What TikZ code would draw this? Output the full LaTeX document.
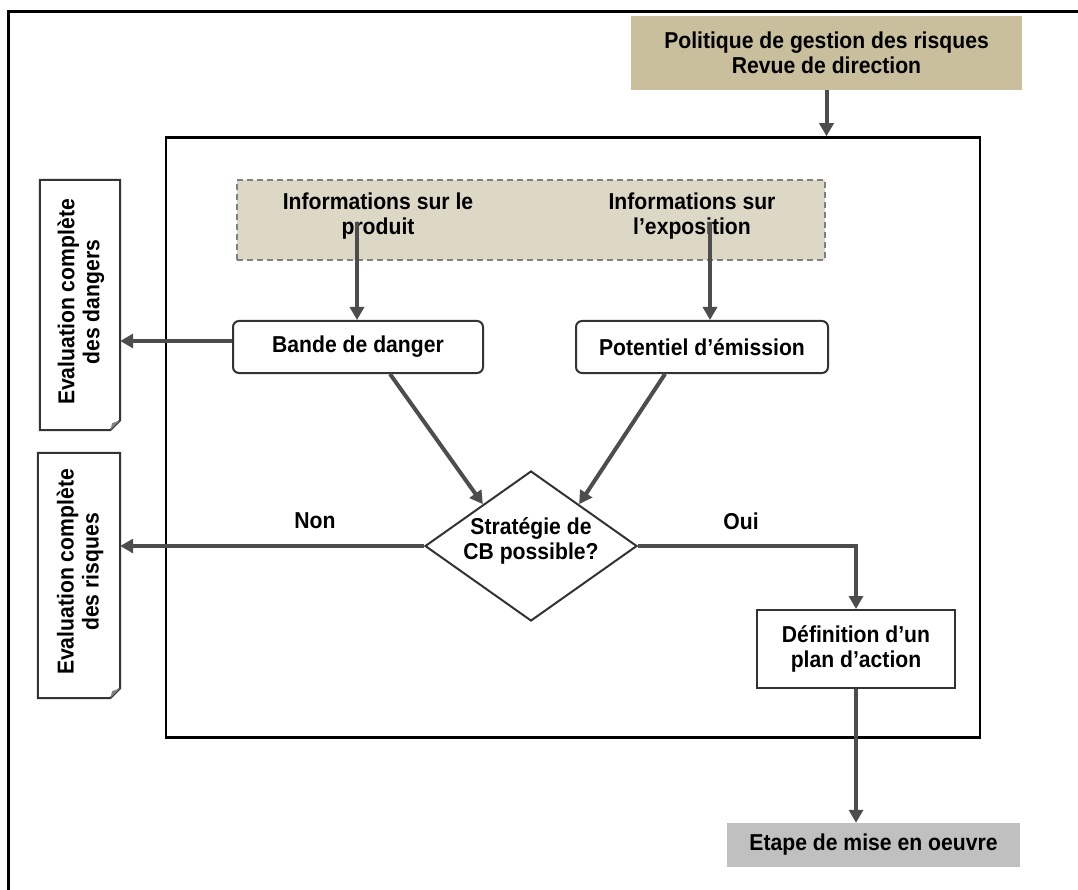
\documentclass[tikz,border=0pt]{standalone}
\usepackage{fontspec}
\setmainfont{Liberation Sans}[FakeStretch=0.92]
\usetikzlibrary{arrows.meta,shapes.geometric,calc}
\definecolor{tanA}{HTML}{C9BF9C}
\definecolor{tanB}{HTML}{DDD8C5}
\definecolor{grayE}{HTML}{C0C0C0}
\definecolor{arr}{HTML}{4D4D4D}
\definecolor{boxline}{HTML}{333333}
\tikzset{
  txt/.style={font=\fontsize{23}{25}\selectfont\bfseries, align=center, text=black},
  rbox/.style={draw=boxline, line width=2pt, rounded corners=6pt, fill=white, txt, inner sep=0pt},
  pbox/.style={draw=boxline, line width=2pt, fill=white, txt, inner sep=0pt},
  conn/.style={draw=arr, line width=4pt, -{Triangle[width=14pt,length=13pt]}},
  docline/.style={draw=boxline, line width=2pt, fill=white, line join=miter},
}
\begin{document}
\begin{tikzpicture}[x=1pt,y=-1pt]
\useasboundingbox (0,0) rectangle (1078,890);
% outer frame (top and left only)
\draw[line width=3pt] (8,890) -- (8,12) -- (1078,12);

% top box
\node[fill=tanA, minimum width=391pt, minimum height=74pt, txt, inner sep=0pt] (pol) at (826.5,53) {Politique de gestion des risques\\Revue de direction};

% inner frame
\node[draw=black, line width=2.5pt, minimum width=814pt, minimum height=600pt, inner sep=0pt] (frame) at (573,437.5) {};
\draw[conn] (pol.south) -- (pol.south |- frame.north);

% dashed info box
\node[draw=gray, dashed, dash pattern=on 6pt off 4pt, fill=tanB, line width=1.5pt, minimum width=588pt, minimum height=80pt, inner sep=0pt] (info) at (531,220) {};
\node[txt] (prod) at (378,216) {Informations sur le\\produit};
\node[txt] (expo) at (692,216) {Informations sur\\l’exposition};

% boxes
\node[rbox, minimum width=250pt, minimum height=52pt] (bande) at (358,347) {Bande de danger};
\node[rbox, minimum width=252pt, minimum height=52pt] (pot) at (702,347) {Potentiel d’émission};

\coordinate (p1) at (357,222);
\coordinate (p2) at (710,222);
\draw[conn] (p1) -- (p1 |- bande.north);
\draw[conn] (p2) -- (p2 |- pot.north);

% diamond
\node[diamond, draw=boxline, line width=2pt, fill=white, minimum width=212pt, minimum height=150pt, inner sep=0pt] (dia) at (531,546) {};
\node[txt] (diatxt) at (531,541) {Stratégie de\\CB possible?};

\draw[conn] ($(bande.south)+(32,0)$) -- ($(dia.west)!0.55!(dia.north)$);
\draw[conn] ($(pot.south)+(-37,0)$) -- ($(dia.east)!0.55!(dia.north)$);

% documents
\node[minimum width=80pt, minimum height=250pt, inner sep=0pt] (doc1) at (80,305) {};
\draw[docline] (doc1.north west) -- (doc1.north east) -- ($(doc1.south east)+(0,-10)$) -- ($(doc1.south east)+(-10,0)$) -- (doc1.south west) -- cycle;
\fill[gray] ($(doc1.south east)+(0,-10)$) -- ($(doc1.south east)+(-10,0)$) -- ($(doc1.south east)+(-8,-7)$) -- cycle;
\node[txt, rotate=90] (doc1t) at (81,302) {Evaluation complète\\des dangers};

\node[minimum width=82pt, minimum height=245pt, inner sep=0pt] (doc2) at (79,575.5) {};
\draw[docline] (doc2.north west) -- (doc2.north east) -- ($(doc2.south east)+(0,-10)$) -- ($(doc2.south east)+(-10,0)$) -- (doc2.south west) -- cycle;
\fill[gray] ($(doc2.south east)+(0,-10)$) -- ($(doc2.south east)+(-10,0)$) -- ($(doc2.south east)+(-8,-7)$) -- cycle;
\node[txt, rotate=90] (doc2t) at (80,572) {Evaluation complète\\des risques};

\coordinate (bw) at ($(bande.west)+(0,-6)$);
\draw[conn] (bw) -- (bw -| doc1.east);
\draw[conn] (dia.west) -- (dia.west -| doc2.east);

% oui branch
\node[pbox, minimum width=198pt, minimum height=78pt] (defn) at (856,649) {Définition d’un\\plan d’action};
\draw[conn] (dia.east) -| (defn.north);

\node[txt] (non) at (315,521) {Non};
\node[txt] (oui) at (741,521) {Oui};

% bottom box
\node[fill=grayE, minimum width=293pt, minimum height=44pt, txt, inner sep=0pt] (etape) at (873.5,845) {Etape de mise en oeuvre};
\draw[conn] (defn.south) -- (defn.south |- etape.north);
\end{tikzpicture}
\end{document}
